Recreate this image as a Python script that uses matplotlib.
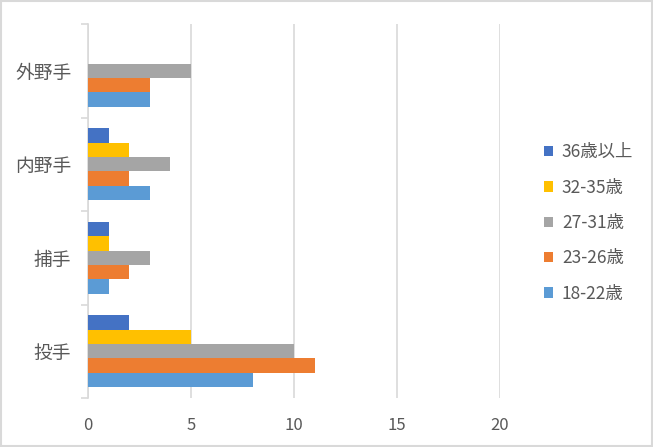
import matplotlib.pyplot as plt
import numpy as np

plt.rcParams['font.family'] = ['Noto Sans CJK JP', 'DejaVu Sans']

positions = ['投手', '捕手', '内野手', '外野手']
series = ['18-22歳', '23-26歳', '27-31歳', '32-35歳', '36歳以上']
counts = {
    '18-22歳': [8, 1, 3, 3],
    '23-26歳': [11, 2, 2, 3],
    '27-31歳': [10, 3, 4, 5],
    '32-35歳': [5, 1, 2, 0],
    '36歳以上': [2, 1, 1, 0],
}
colors = ['#5B9BD5', '#ED7D31', '#A5A5A5', '#FFC000', '#4472C4']
x_ticks = [0, 5, 10, 15, 20]

TEXT = '#595959'
GRID = '#d9d9d9'

fig = plt.figure(figsize=(6.53, 4.47), dpi=100)
ax = fig.add_axes([88 / 653, 1 - 398 / 447, 412 / 653, 374 / 447])

y = np.arange(len(positions))
h = 0.153
for i, (name, color) in enumerate(zip(series, colors)):
    ax.barh(y + (i - 2) * h, counts[name], height=h, color=color,
            label=name, zorder=3)

ax.set_xlim(0, 20)
ax.set_ylim(-0.5, len(positions) - 0.5)
ax.set_xticks(x_ticks)
ax.set_xticklabels([str(t) for t in x_ticks])
ax.grid(axis='x', color=GRID, linewidth=1.2, zorder=0)
ax.tick_params(axis='x', length=0, pad=14, labelsize=12, labelcolor=TEXT)

# category boundaries as outside tick marks, labels at centres
ax.set_yticks(np.arange(-0.5, len(positions), 1.0))
ax.set_yticklabels([])
ax.set_yticks(y, minor=True)
ax.set_yticklabels(positions, minor=True)
ax.tick_params(axis='y', which='major', length=5, color=GRID, width=1.2)
ax.tick_params(axis='y', which='minor', length=0, pad=12, labelsize=13.5,
               labelcolor=TEXT)

for s in ['top', 'right', 'bottom']:
    ax.spines[s].set_visible(False)
ax.spines['left'].set_color(GRID)
ax.spines['left'].set_linewidth(1.2)

handles, labels = ax.get_legend_handles_labels()
leg = fig.legend(handles[::-1], labels[::-1], loc='center left',
                 bbox_to_anchor=(528 / 653, 1 - 223 / 447), frameon=False,
                 fontsize=12.5, labelcolor=TEXT, handlelength=0.55,
                 handleheight=0.55, handletextpad=0.5, labelspacing=1.0)

fig.patches.append(plt.Rectangle((0.002, 0.003), 0.996, 0.994,
                                 transform=fig.transFigure, fill=False,
                                 edgecolor=GRID, linewidth=1.5))

plt.savefig('out.png', dpi=100)
